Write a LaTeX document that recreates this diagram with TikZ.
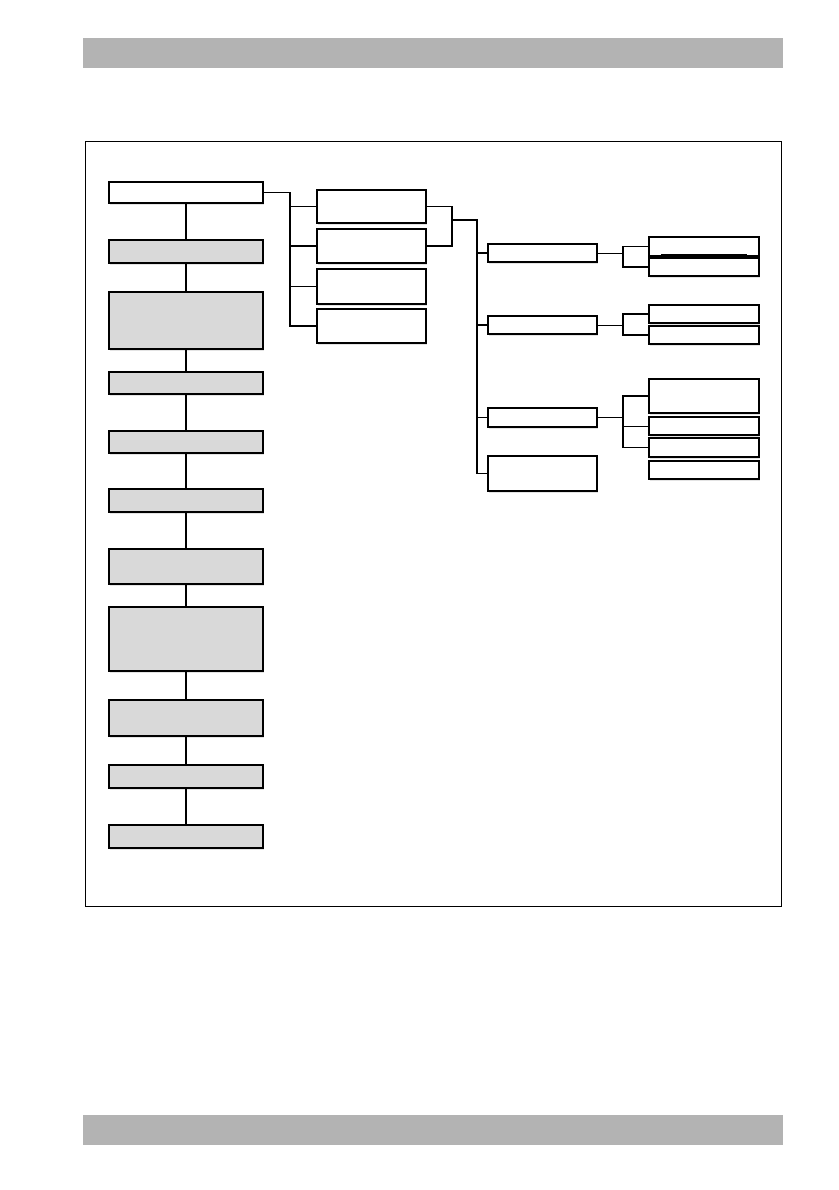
\documentclass[tikz,border=0pt]{standalone}
\usetikzlibrary{shadows}
\definecolor{bargray}{HTML}{B3B3B3}
\definecolor{boxgray}{HTML}{D9D9D9}
\begin{document}
\begin{tikzpicture}[x=1pt,y=-1pt,
  box/.style={draw=black,line width=1.9pt,fill=white,inner sep=0pt,
    drop shadow={opacity=0.22,shadow xshift=1pt,shadow yshift=-2pt}},
  gbox/.style={box,fill=boxgray},
  lw/.style={minimum width=154pt},
  mw/.style={minimum width=109pt},
  rw/.style={minimum width=110pt},
  conn/.style={draw=black,line width=1.4pt},
  thinconn/.style={draw=black,line width=1pt}]
\useasboundingbox (0,0) rectangle (838,1190);
\fill[white] (0,0) rectangle (838,1190);
% page bars
\fill[bargray] (83,38) rectangle (783,68);
\fill[bargray] (83,1115) rectangle (783,1145);
% frame
\draw[line width=1pt] (85,142) rectangle (781,906);
% left column
\node[box,lw,minimum height=21pt] (A) at (186,192.5) {};
\node[gbox,lw,minimum height=23pt] (B) at (186,251.5) {};
\node[gbox,lw,minimum height=57pt] (C) at (186,320.5) {};
\node[gbox,lw,minimum height=22pt] (L4) at (186,383) {};
\node[gbox,lw,minimum height=22pt] (L5) at (186,442) {};
\node[gbox,lw,minimum height=23pt] (L6) at (186,500.5) {};
\node[gbox,lw,minimum height=35pt] (L7) at (186,566.5) {};
\node[gbox,lw,minimum height=64pt] (L8) at (186,639) {};
\node[gbox,lw,minimum height=36pt] (L9) at (186,718) {};
\node[gbox,lw,minimum height=23pt] (L10) at (186,776.5) {};
\node[gbox,lw,minimum height=23pt] (L11) at (186,836.5) {};
\foreach \u/\v in {A/B,B/C,C/L4,L4/L5,L5/L6,L6/L7,L7/L8,L8/L9,L9/L10,L10/L11}
  \draw[conn] (\u.south) -- (\v.north);
% column 2
\node[box,mw,minimum height=33pt] (D) at (371.5,206.5) {};
\node[box,mw,minimum height=34pt] (E) at (371.5,246) {};
\node[box,mw,minimum height=35pt] (F) at (371.5,286.5) {};
\node[box,mw,minimum height=34pt] (G) at (371.5,326) {};
\coordinate (b1) at (290,0);
\draw[conn] (A.east) -| (b1 |- G.west) -- (G.west);
\draw[conn] (b1 |- D.west) -- (D.west);
\draw[conn] (b1 |- E.west) -- (E.west);
\draw[conn] (b1 |- F.west) -- (F.west);
% column 3
\node[box,mw,minimum height=18pt] (H) at (542.5,253) {};
\node[box,mw,minimum height=18pt] (I) at (542.5,325) {};
\node[box,mw,minimum height=19pt] (J) at (542.5,417.5) {};
\node[box,mw,minimum height=35pt] (K) at (542.5,473.5) {};
\coordinate (b2) at (452,0);
\coordinate (b2m) at (452,220);
\coordinate (b3) at (477,0);
\draw[conn] (D.east) -| (b2 |- E.east) -- (E.east);
\draw[conn] (b2m) -| (b3 |- K.west) -- (K.west);
\draw[conn] (b3 |- H.west) -- (H.west);
\draw[conn] (b3 |- I.west) -- (I.west);
\draw[thinconn] (b3 |- J.west) -- (J.west);
% column 4
\node[box,rw,minimum height=19pt,line width=1.3pt] (Lb) at (704,246.5) {};
\node[box,rw,minimum height=18pt] (Mb) at (704,267) {};
\node[box,rw,minimum height=18pt,line width=1.3pt] (Nb) at (704,314) {};
\node[box,rw,minimum height=18pt] (Ob) at (704,335) {};
\node[box,rw,minimum height=34pt] (Pb) at (704,396) {};
\node[box,rw,minimum height=18pt] (Qb) at (704,426) {};
\node[box,rw,minimum height=19pt] (Rb) at (704,447.5) {};
\node[box,rw,minimum height=18pt,line width=1.3pt] (Sb) at (704,470) {};
\draw[line width=2pt] ([xshift=13pt,yshift=1.5pt]Lb.south west) -- ([xshift=-13pt,yshift=1.5pt]Lb.south east);
\coordinate (b4) at (623,0);
\draw[thinconn] (H.east) -- (b4 |- H.east);
\draw[conn] (Lb.west) -| (b4 |- Mb.west) -- (Mb.west);
\draw[thinconn] (I.east) -- (b4 |- I.east);
\draw[conn] (Nb.west) -| (b4 |- Ob.west) -- (Ob.west);
\draw[thinconn] (J.east) -- (b4 |- J.east);
\draw[conn] (Pb.west) -| (b4 |- Rb.west) -- (Rb.west);
\draw[thinconn] (b4 |- Qb.west) -- (Qb.west);
\end{tikzpicture}
\end{document}
